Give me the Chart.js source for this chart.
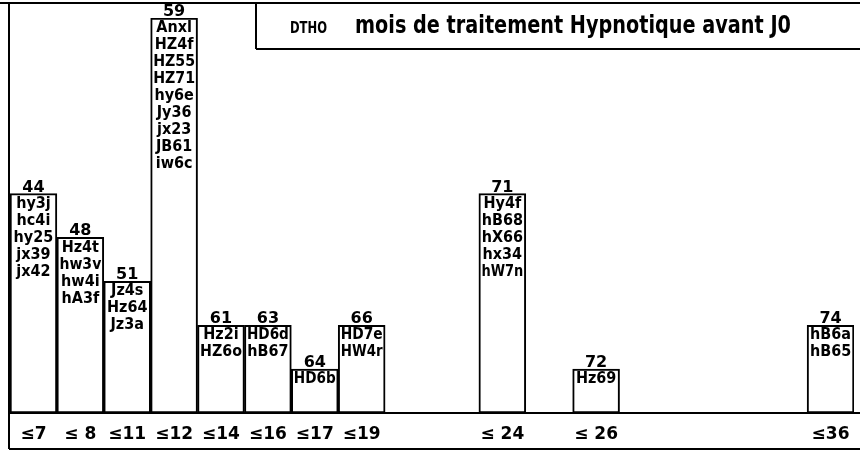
<!DOCTYPE html>
<html>
<head>
<meta charset="utf-8">
<script src="https://cdn.jsdelivr.net/npm/chart.js@4/dist/chart.umd.min.js"></script>
<style>
  body { margin: 0; background: #fff; }
  #wrap { width: 860px; height: 452px; position: relative; }
</style>
</head>
<body>
<div id="wrap"><canvas id="chart"></canvas></div>
<script>
// month slots on the x axis (blank ones have no patient)
const tickLabels = ['≤7', '≤ 8', '≤11', '≤12', '≤14', '≤16', '≤17', '≤19', '', '', '≤ 24', '', '≤ 26', '', '', '', '', '≤36'];
// number of patients in each slot
const counts = [5, 4, 3, 9, 2, 2, 1, 2, null, null, 5, null, 1, null, null, null, null, 2];
// number printed on top of each bar
const topNumbers = ['44', '48', '51', '59', '61', '63', '64', '66', '', '', '71', '', '72', '', '', '', '', '74'];
// patient codes listed inside each bar
const codes = [
  ['hy3j', 'hc4i', 'hy25', 'jx39', 'jx42'],
  ['Hz4t', 'hw3v', 'hw4i', 'hA3f'],
  ['Jz4s', 'Hz64', 'Jz3a'],
  ['Anxl', 'HZ4f', 'HZ55', 'HZ71', 'hy6e', 'Jy36', 'jx23', 'JB61', 'iw6c'],
  ['Hz2i', 'HZ6o'],
  ['HD6d', 'hB67'],
  ['HD6b'],
  ['HD7e', 'HW4r'],
  [], [],
  ['Hy4f', 'hB68', 'hX66', 'hx34', 'hW7n'],
  [],
  ['Hz69'],
  [], [], [], [],
  ['hB6a', 'hB65'],
];
const subtitle = 'DTHO';
const title = 'mois de traitement Hypnotique avant J0';

const barText = {
  id: 'barText',
  afterDatasetsDraw(chart) {
    const ctx = chart.ctx;
    const meta = chart.getDatasetMeta(0);
    ctx.save();
    ctx.fillStyle = '#000';
    ctx.textAlign = 'center';
    meta.data.forEach((bar, i) => {
      if (counts[i] == null) return;
      ctx.font = 'bold 16px "DejaVu Sans"';
      ctx.textBaseline = 'alphabetic';
      ctx.fillText(topNumbers[i], bar.x, bar.y - 2);
      ctx.font = 'bold 16px "DejaVu Sans Condensed", "DejaVu Sans"';
      ctx.textBaseline = 'top';
      codes[i].forEach((c, j) => {
        ctx.fillText(c, bar.x, bar.y + 2 + j * 17, bar.width - 5);
      });
    });
    ctx.restore();
  },
  afterDraw(chart) {
    const ctx = chart.ctx;
    ctx.save();
    ctx.strokeStyle = '#000';
    ctx.lineWidth = 2;
    ctx.beginPath();
    // outer frame
    ctx.moveTo(0, 3); ctx.lineTo(860, 3);
    ctx.moveTo(9, 3); ctx.lineTo(9, 449);
    ctx.moveTo(9, 449); ctx.lineTo(860, 449);
    // baseline
    ctx.moveTo(9, 413); ctx.lineTo(860, 413);
    // title box
    ctx.moveTo(256, 3); ctx.lineTo(256, 49);
    ctx.moveTo(256, 49); ctx.lineTo(860, 49);
    ctx.stroke();
    ctx.fillStyle = '#000';
    ctx.textBaseline = 'alphabetic';
    ctx.textAlign = 'left';
    ctx.font = 'bold 15px "DejaVu Sans"';
    ctx.fillText(subtitle, 290, 33, 37);
    ctx.font = 'bold 24px "DejaVu Sans"';
    ctx.fillText(title, 355, 33, 436);
    ctx.restore();
  }
};

const bg = {
  id: 'bg',
  beforeDraw(chart) {
    const ctx = chart.ctx;
    ctx.save();
    ctx.fillStyle = '#fff';
    ctx.fillRect(0, 0, chart.width, chart.height);
    ctx.restore();
  }
};

new Chart(document.getElementById('chart').getContext('2d'), {
  type: 'bar',
  data: {
    labels: tickLabels,
    datasets: [{
      data: counts,
      backgroundColor: '#fff',
      borderColor: '#000',
      borderWidth: 2,
      borderSkipped: false,
      categoryPercentage: 1,
      barPercentage: 1,
    }],
  },
  options: {
    responsive: true,
    maintainAspectRatio: false,
    animation: false,
    layout: { padding: { left: 10, right: 6, top: 18, bottom: 0 } },
    scales: {
      x: {
        grid: { display: false },
        border: { display: false },
        ticks: {
          color: '#000',
          font: { family: 'DejaVu Sans', size: 17, weight: 'bold' },
          padding: 3,
          maxRotation: 0,
          autoSkip: false,
        },
        afterFit(scale) { scale.height = 39; },
      },
      y: {
        display: false,
        min: 0,
        max: 9,
      },
    },
    plugins: {
      legend: { display: false },
      tooltip: { enabled: false },
    },
  },
  plugins: [bg, barText],
});
</script>
</body>
</html>
